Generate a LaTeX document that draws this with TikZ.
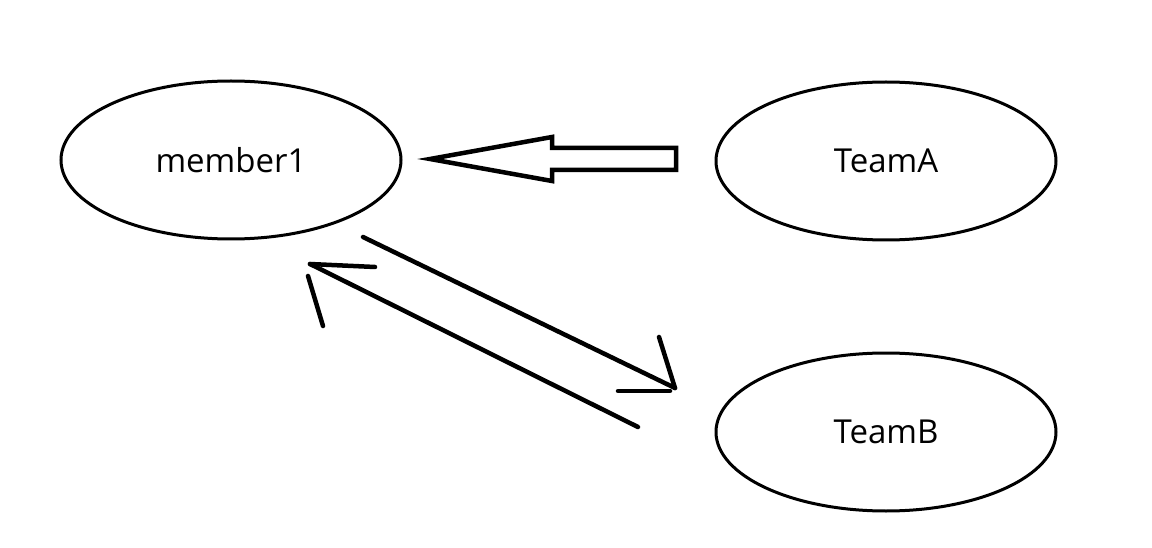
\documentclass[tikz,border=0pt]{standalone}
\usepackage{fontspec}
\setmainfont{Open Sans}
\usetikzlibrary{shapes.geometric}
\tikzset{
  entity/.style={draw, ellipse, line width=3pt, minimum width=340pt, minimum height=158pt,
    font=\fontsize{33}{40}\selectfont},
  stroke/.style={line width=4.5pt, line cap=round}
}
\begin{document}
\begin{tikzpicture}[x=1pt,y=-1pt]
\useasboundingbox (0,0) rectangle (1152,548);

\node[entity] (member1) at (231,160) {member1};
\node[entity] (teamA) at (886,161) {TeamA};
\node[entity] (teamB) at (886,432) {TeamB};

% hollow arrow from TeamA to member1
\draw[line width=4.5pt, line join=miter]
  (430,159) -- (552,137) -- (552,148) -- (676,148) -- (676,170) -- (552,170) -- (552,181) -- cycle;

% member1 -> TeamB
\coordinate (outS) at (363,237);
\coordinate (outE) at (675,388);
\draw[stroke] (outS) -- (outE);
\draw[stroke] (659,337) -- (outE);
\draw[stroke] (618,391) -- (670,391);

% TeamB -> member1
\coordinate (inS) at (638,427);
\coordinate (inE) at (310,264);
\draw[stroke] (inS) -- (inE);
\draw[stroke] (inE) -- (375,267);
\draw[stroke] (308,276) -- (323,326);
\end{tikzpicture}
\end{document}
